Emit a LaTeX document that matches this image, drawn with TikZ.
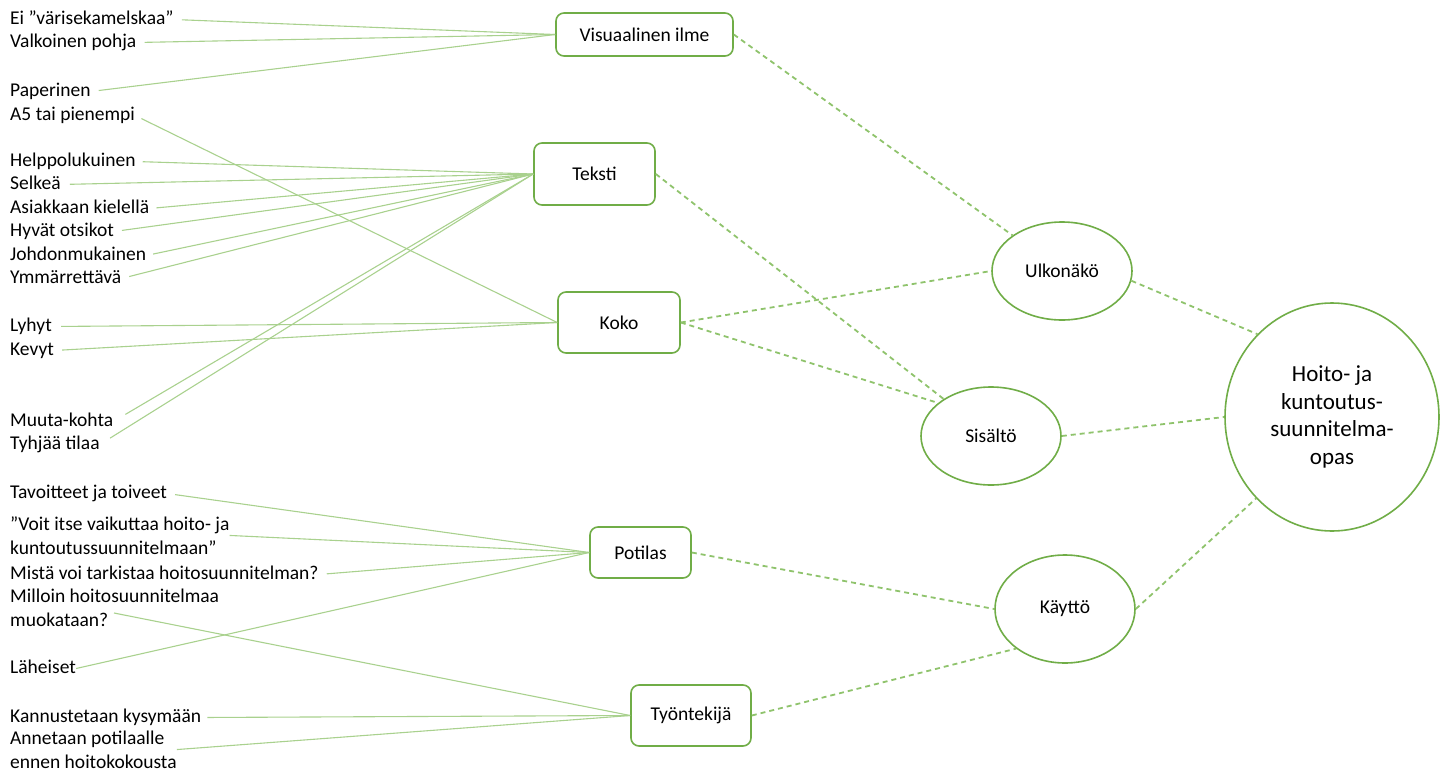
\documentclass[tikz,border=0pt]{standalone}
\usepackage{fontspec}
\setmainfont{Carlito}
\usetikzlibrary{shapes.geometric}

\definecolor{boxgreen}{HTML}{70AD47}
\definecolor{linegreen}{HTML}{A9D18E}
\definecolor{dashgreen}{HTML}{8FC36C}

\begin{document}
\begin{tikzpicture}[x=1pt,y=-1pt,
  font=\fontsize{19.5}{23.5}\selectfont,
  lbl/.style={anchor=base west,inner sep=0pt,text height=13pt,text depth=4pt},
  lbltwo/.style={anchor=base west,inner sep=0pt,align=left},
  box/.style={draw=boxgreen,line width=1.6pt,rounded corners=8pt,fill=white,inner sep=0pt},
  oval/.style={draw=boxgreen,line width=1.6pt,ellipse,fill=white,inner sep=0pt},
  leg/.style={draw=linegreen,line width=1.1pt},
  link/.style={draw=dashgreen,line width=1.8pt,dash pattern=on 5pt off 4pt}]

   \useasboundingbox (0,0) rectangle (1443,771);

   % the five themes
   \node[box,minimum width=177pt,minimum height=43pt] (vis) at (644.5,34.5) {Visuaalinen ilme};
   \node[box,minimum width=121pt,minimum height=62pt] (tek) at (594.5,174) {Teksti};
   \node[box,minimum width=122pt,minimum height=61pt] (koko) at (619,322.5) {Koko};
   \node[box,minimum width=101pt,minimum height=51pt] (pot) at (640.5,552.5) {Potilas};
   \node[box,minimum width=120pt,minimum height=61pt] (tyo) at (691,715.5) {Työntekijä};

   % the ovals
   \node[oval,minimum width=140pt,minimum height=98pt] (ulk) at (1062,271) {Ulkonäkö};
   \node[oval,minimum width=140pt,minimum height=98pt] (sis) at (991,436) {Sisältö};
   \node[oval,minimum width=140pt,minimum height=108pt] (kay) at (1065,609) {Käyttö};
   \node[oval,minimum width=214pt,minimum height=228pt,align=center,
         font=\fontsize{23}{27.5}\selectfont] (hoi) at (1332,417)
         {Hoito- ja\\kuntoutus-\\suunnitelma-\\opas};

   % the labels on the left
   \node[lbl] (eivari) at (10,24) {Ei ”värisekamelskaa”};
   \node[lbl] (valk) at (10,47) {Valkoinen pohja};
   \node[lbl] (pap) at (10,96) {Paperinen};
   \node[lbl] (a5) at (10,120) {A5 tai pienempi};
   \node[lbl] (help) at (10,166) {Helppolukuinen};
   \node[lbl] (selk) at (10,189) {Selkeä};
   \node[lbl] (asiak) at (10,213) {Asiakkaan kielellä};
   \node[lbl] (hyv) at (10,236) {Hyvät otsikot};
   \node[lbl] (johd) at (10,260) {Johdonmukainen};
   \node[lbl] (ymm) at (10,283) {Ymmärrettävä};
   \node[lbl] (lyh) at (10,331) {Lyhyt};
   \node[lbl] (kev) at (10,355) {Kevyt};
   \node[lbl] (muu) at (10,426) {Muuta-kohta};
   \node[lbl] (tyh) at (10,449) {Tyhjää tilaa};
   \node[lbl] (tav) at (10,498) {Tavoitteet ja toiveet};
   \node[lbltwo] (voit) at (10,554) {”Voit itse vaikuttaa hoito- ja\\kuntoutussuunnitelmaan”};
   \node[lbl] (mist) at (10,579) {Mistä voi tarkistaa hoitosuunnitelman?};
   \node[lbltwo] (mill) at (10,626) {Milloin hoitosuunnitelmaa\\muokataan?};
   \coordinate (millend) at (114,613);
   \node[lbl] (lah) at (10,673) {Läheiset};
   \node[lbl] (kann) at (10,722) {Kannustetaan kysymään};
   \node[lbltwo] (ann) at (10,768) {Annetaan potilaalle\\ennen hoitokokousta};

   \draw[leg,shorten <=8pt] (eivari.east) -- (vis.west);
   \draw[leg,shorten <=8pt] (valk.east) -- (vis.west);
   \draw[leg,shorten <=8pt] (pap.east) -- (vis.west);
   \draw[leg,shorten <=7pt] (a5.east) -- (koko.west);
   \draw[leg,shorten <=7pt] (help.east) -- (tek.west);
   \draw[leg,shorten <=9pt] (selk.east) -- (tek.west);
   \draw[leg,shorten <=7pt] (asiak.east) -- (tek.west);
   \draw[leg,shorten <=8pt] (hyv.east) -- (tek.west);
   \draw[leg,shorten <=7pt] (johd.east) -- (tek.west);
   \draw[leg,shorten <=8pt] (ymm.east) -- (tek.west);
   \draw[leg,shorten <=9pt] (lyh.east) -- (koko.west);
   \draw[leg,shorten <=8pt] (kev.east) -- (koko.west);
   \draw[leg,shorten <=14pt] (muu.east) -- (tek.west);
   \draw[leg,shorten <=12pt] (tyh.east) -- (tek.west);
   \draw[leg,shorten <=8pt] (tav.east) -- (pot.west);
   \draw[leg] (voit.east) -- (pot.west);
   \draw[leg,shorten <=8pt] (mist.east) -- (pot.west);
   \draw[leg] (lah.east) -- (pot.west);
   \draw[leg] (millend) -- (tyo.west);
   \draw[leg,shorten <=6pt] (kann.east) -- (tyo.west);
   \draw[leg] (ann.east) -- (tyo.west);

   \draw[link] (vis.east) -- (ulk);
   \draw[link] (tek.east) -- (sis);
   \draw[link] (koko.east) -- (ulk.west);
   \draw[link] (koko.east) -- (sis.148);
   \draw[link] (ulk.-8) -- (hoi.132);
   \draw[link] (sis.east) -- (hoi.west);
   \draw[link] (pot.east) -- (kay.west);
   \draw[link] (tyo.east) -- (kay.-141);
   \draw[link] (kay.east) -- (hoi.-133);

\end{tikzpicture}
\end{document}
